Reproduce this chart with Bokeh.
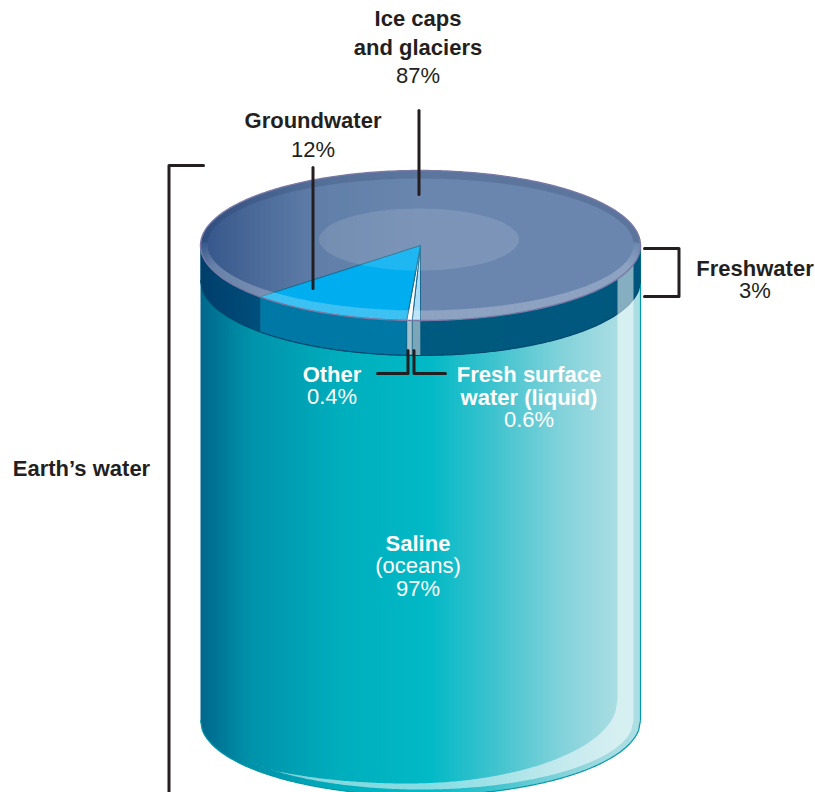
import numpy as np
from bokeh.embed import file_html
from bokeh.models import Range1d
from bokeh.plotting import figure
from bokeh.resources import INLINE
from bokeh.core.properties import value

# Shares of the planet's water
earth_shares = {"Saline": 97, "Freshwater": 3}
fresh_names = ["Fresh surface water (liquid)", "Other", "Groundwater", "Ice caps and glaciers"]
fresh_shares = [0.6, 0.4, 12, 87]

INK = "#231f20"
FONT = value("Liberation Sans")

# Cylinder geometry in page pixels
CX, RX, RY = 420.0, 220.0, 75.0
TOP_Y, BAND, FLOOR_Y = 245.0, 35.0, 720.0

p = figure(width=815, height=792, output_backend="svg", toolbar_location=None,
           x_range=Range1d(0, 815), y_range=Range1d(792, 0),
           x_axis_type=None, y_axis_type=None, min_border=0,
           outline_line_color=None, background_fill_color="white",
           border_fill_color="white")
p.grid.visible = False


def half_height(x, rx=RX, ry=RY, cx=CX):
    t = np.clip((np.asarray(x, float) - cx) / rx, -1, 1)
    return ry * np.sqrt(1 - t * t)


def ramp(x, stops):
    xs = [s[0] for s in stops]
    chans = []
    for i in (1, 3, 5):
        chans.append(np.interp(x, xs, [int(s[1][i:i + 2], 16) for s in stops]))
    return "#%02x%02x%02x" % tuple(int(round(c)) for c in chans)


def shaded_strips(upper, lower, stops, x0=CX - RX, x1=CX + RX):
    """Fill the area between two curves with a left-to-right colour ramp.
    Each strip runs under the next one so no pale seams show between them."""
    xs_list, ys_list, colors = [], [], []
    for a in np.arange(x0, x1, 1.0):
        b = min(a + 2, x1)
        xs_list.append([a, b, b, a])
        ys_list.append([upper(a), upper(b), lower(b), lower(a)])
        colors.append(ramp(a + 0.5, stops))
    p.patches(xs_list, ys_list, fill_color=colors, fill_alpha=1.0, line_color=None)


def rim_point(frac, cy):
    """Point on the rim, `frac` of the way clockwise from the front of the disc."""
    ang = 2 * np.pi * np.asarray(frac, float)
    return CX - RX * np.sin(ang), cy + RY * np.cos(ang)


# Ocean body
body_stops = [(200, "#00688c"), (250, "#0092aa"), (340, "#00aebc"), (430, "#03b9c6"),
              (500, "#45c4cf"), (560, "#82d2da"), (616, "#a9dde2"), (640, "#abdee3")]
shaded_strips(lambda x: TOP_Y + half_height(x),
              lambda x: FLOOR_Y + half_height(x), body_stops)
bx = np.linspace(CX - RX, CX + RX, 240)
p.line(bx, FLOOR_Y + half_height(bx), line_color="#0099a8", line_width=1.2)
p.line([CX + RX, CX + RX], [TOP_Y, FLOOR_Y], line_color="#0099a8", line_width=1.2)

# Band of freshwater on top of the ocean
band_stops = [(200, "#003e6c"), (260, "#004f7c"), (420, "#005b80"), (640, "#00577d")]
shaded_strips(lambda x: TOP_Y + half_height(x),
              lambda x: TOP_Y + BAND + half_height(x), band_stops)

# Side faces of the slices that show on the band
cum = np.cumsum(fresh_shares) / 100.0
band_colors = ["#7ca6b8", "#a3bfc9", "#0078a5"]
starts = [0.0, cum[0], cum[1]]
for start, stop, col in zip(starts, cum[:3], band_colors):
    f = np.linspace(start, stop, 40)
    xa, ya = rim_point(f, TOP_Y)
    xb, yb = rim_point(f[::-1], TOP_Y + BAND)
    p.patch(np.r_[xa, xb], np.r_[ya, yb], fill_color=col, fill_alpha=1.0,
            line_color="#0c5f85", line_width=0.8, line_alpha=0.7)
p.line(bx, TOP_Y + BAND + half_height(bx), line_color="#004a70", line_width=1.2)

# Glass highlight running down the right side and along the floor
LIP_RX, LIP_RY = 213.0, 69.0
SHINE_CX, SHINE_CY, SHINE_RY = 407.0, 700.0, 83.0
hx = np.linspace(247, 633, 160)
outer = FLOOR_Y + half_height(hx, LIP_RX, LIP_RY)
ix = np.linspace(247, 617, 160)
inner = SHINE_CY + np.where(ix < SHINE_CX,
                            half_height(ix, 250.0, SHINE_RY, SHINE_CX),
                            half_height(ix, 210.0, SHINE_RY, SHINE_CX))
inner = np.minimum(inner, FLOOR_Y + half_height(ix, LIP_RX, LIP_RY))
shine_top = TOP_Y + half_height(np.array([617.0, 633.0]))
p.patch(np.r_[hx, 633, 617, ix[::-1]],
        np.r_[outer, shine_top[1], shine_top[0], inner[::-1]],
        fill_color="white", fill_alpha=0.52, line_color=None)

# Disc seen from above
disc_stops = [(200, "#35568a"), (260, "#4d6c9a"), (320, "#617fa8"), (420, "#6a86ae"), (640, "#6a86ae")]
shaded_strips(lambda x: TOP_Y - half_height(x),
              lambda x: TOP_Y + half_height(x), disc_stops)

# Slices on the disc
disc_colors = ["#a9dcf6", "#ffffff", "#00aeef"]
for start, stop, col in zip(starts, cum[:3], disc_colors):
    f = np.linspace(start, stop, 40)
    xa, ya = rim_point(f, TOP_Y)
    p.patch(np.r_[CX, xa], np.r_[TOP_Y, ya], fill_color=col, fill_alpha=1.0,
            line_color="#17688f", line_width=1.0)

# Soft pale spot in the middle of the disc
p.ellipse(x=[418.5], y=[239.0], width=[200], height=[62], fill_color="white",
          fill_alpha=0.12, line_color=None)

# Raised lip: shaded along the back, lit along the front
IN_RX, IN_RY, IN_CY = 213.0, 66.0, 244.0
theta = np.linspace(0, 2 * np.pi, 181)
seg_x, seg_y, seg_c, seg_a = [], [], [], []
for t0, t1 in zip(theta[:-1], theta[1:]):
    tt = np.array([t0, t1])
    ox, oy = CX + RX * np.cos(tt), TOP_Y + RY * np.sin(tt)
    ix2, iy2 = CX + IN_RX * np.cos(tt), IN_CY + IN_RY * np.sin(tt)
    seg_x.append([ox[0], ox[1], ix2[1], ix2[0]])
    seg_y.append([oy[0], oy[1], iy2[1], iy2[0]])
    s = np.sin((t0 + t1) / 2)
    if s > -0.05:
        seg_c.append("#ffffff")
        seg_a.append(0.24 * min(1.0, (s + 0.05) / 0.35))
    else:
        seg_c.append("#1c2f55")
        seg_a.append(0.18)
p.patches(seg_x, seg_y, fill_color=seg_c, fill_alpha=seg_a, line_color=None)

tt = np.linspace(0, 2 * np.pi, 360)
p.line(CX + RX * np.cos(tt), TOP_Y + RY * np.sin(tt), line_color="#7a78a6", line_width=1.4)

# Brackets and leader lines
leader_xs = [[203, 168.5, 168.5], [644, 678.5, 678.5, 644], [418.5, 418.5], [312.5, 312.5],
             [407.5, 407.5, 377], [413.5, 413.5, 445]]
leader_ys = [[165, 165, 800], [248, 248, 296, 296], [110, 194], [167, 288],
             [350, 373, 373], [350, 373, 373]]
p.multi_line(leader_xs, leader_ys, line_color=INK, line_width=3, line_join="round", line_cap="round")


def label(x, y, txt, bold=False, color=INK, align="center"):
    p.text(x=[x], y=[y], text=[txt], text_color=color, text_font=FONT,
           text_font_size="22px", text_font_style="bold" if bold else "normal",
           text_align=align, text_baseline="alphabetic")


def pct(v):
    return f"{v}%"


label(417.5, 18, "Ice caps", True)
label(417.5, 47, "and glaciers", True)
label(417.5, 75, pct(fresh_shares[3]))
label(312.5, 120, "Groundwater", True)
label(312.5, 149, pct(fresh_shares[2]))
label(754.5, 268, "Freshwater", True)
label(754.5, 290, pct(earth_shares["Freshwater"]))
label(81, 468, "Earth\u2019s water", True)
label(331.5, 374, "Other", True, "white")
label(331.5, 396, pct(fresh_shares[1]), False, "white")
label(528.5, 374, "Fresh surface", True, "white")
label(528.5, 397, "water (liquid)", True, "white")
label(528.5, 419, pct(fresh_shares[0]), False, "white")
label(417.5, 543, "Saline", True, "white")
label(417.5, 565, "(oceans)", False, "white")
label(417.5, 588, pct(earth_shares["Saline"]), False, "white")

open("out.html", "w").write(file_html(p, INLINE))
